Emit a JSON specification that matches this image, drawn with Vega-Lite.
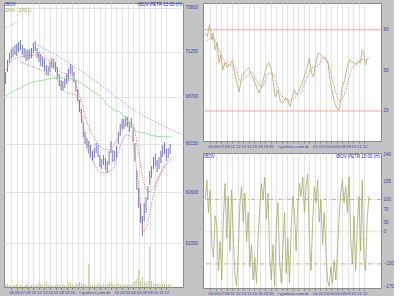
{
"$schema":"https://vega.github.io/schema/vega-lite/v6.json",
"background":"#c4c4c4",
"padding":{"left":3,"top":1,"right":0,"bottom":0},
"spacing":3,
"config":{
 "view":{"fill":"#ffffff","stroke":"#8a8a8a","strokeWidth":1},
 "font":"Liberation Sans",
 "axis":{"labelFont":"Liberation Sans","labelFontSize":4.5,"labelColor":"#3a3ab0","domain":false,"tickColor":"#777777","tickSize":2,"labelPadding":1,"gridColor":"#e3e3e3","gridWidth":1},
 "axisX":{"labelFontSize":4.2}
},
"datasets":{
 "bars":[
{"t":-1.0,"hi":70090,"lo":69410,"vol":20},{"t":-0.67,"hi":70767,"lo":70090,"vol":30},{"t":-0.33,"hi":71170,"lo":70600,"vol":20},
{"t":0,"hi":71400,"lo":70820,"vol":10},{"t":0.33,"hi":71510,"lo":70940,"vol":20},{"t":0.67,"hi":71630,"lo":71055,"vol":20},
{"t":1.0,"hi":71690,"lo":71000,"vol":30},{"t":1.33,"hi":71800,"lo":71230,"vol":10},{"t":1.67,"hi":71920,"lo":71340,"vol":20},
{"t":2.0,"hi":71630,"lo":71055,"vol":20},{"t":2.33,"hi":71456,"lo":70882,"vol":10},{"t":2.67,"hi":71398,"lo":70710,"vol":30},
{"t":3.0,"hi":71340,"lo":70767,"vol":20},{"t":3.33,"hi":71398,"lo":70825,"vol":10},{"t":3.67,"hi":71456,"lo":70882,"vol":20},
{"t":4.0,"hi":71746,"lo":71170,"vol":30},{"t":4.33,"hi":71862,"lo":71283,"vol":20},{"t":4.67,"hi":71456,"lo":70882,"vol":20},
{"t":5.0,"hi":71226,"lo":70653,"vol":40},{"t":5.33,"hi":71112,"lo":70426,"vol":30},{"t":5.67,"hi":70940,"lo":70369,"vol":20},
{"t":6.0,"hi":70825,"lo":70143,"vol":30},{"t":6.33,"hi":70482,"lo":69917,"vol":60},{"t":6.67,"hi":70426,"lo":69860,"vol":30},
{"t":7.0,"hi":70653,"lo":70087,"vol":20},{"t":7.33,"hi":70882,"lo":70313,"vol":20},{"t":7.67,"hi":70825,"lo":70256,"vol":10},
{"t":8.0,"hi":70653,"lo":70087,"vol":20},{"t":8.33,"hi":70369,"lo":69690,"vol":30},{"t":8.67,"hi":69974,"lo":69299,"vol":20},
{"t":9.0,"hi":69634,"lo":69075,"vol":20},{"t":9.33,"hi":69578,"lo":69019,"vol":30},{"t":9.67,"hi":69747,"lo":69187,"vol":20},
{"t":10.0,"hi":69974,"lo":69411,"vol":10},{"t":10.33,"hi":70256,"lo":69578,"vol":40},{"t":10.67,"hi":70539,"lo":69974,"vol":50},
{"t":11.0,"hi":70426,"lo":69860,"vol":30},{"t":11.33,"hi":70087,"lo":69522,"vol":20},{"t":11.67,"hi":69634,"lo":68964,"vol":40},
{"t":12.0,"hi":69131,"lo":68465,"vol":30},{"t":12.33,"hi":68520,"lo":67860,"vol":50},{"t":12.67,"hi":68025,"lo":67261,"vol":40},
{"t":13.0,"hi":67261,"lo":66506,"vol":30},{"t":13.33,"hi":66774,"lo":66131,"vol":30},{"t":13.67,"hi":66452,"lo":65917,"vol":20},
{"t":14.0,"hi":66291,"lo":65652,"vol":230},{"t":14.33,"hi":66077,"lo":65440,"vol":30},{"t":14.67,"hi":65758,"lo":65229,"vol":20},
{"t":15.0,"hi":65917,"lo":65387,"vol":30},{"t":15.33,"hi":66184,"lo":65652,"vol":20},{"t":15.67,"hi":66077,"lo":65440,"vol":40},
{"t":16.0,"hi":65546,"lo":64915,"vol":30},{"t":16.33,"hi":65335,"lo":64810,"vol":20},{"t":16.67,"hi":65546,"lo":65019,"vol":30},
{"t":17.0,"hi":65387,"lo":64758,"vol":20},{"t":17.33,"hi":65229,"lo":64601,"vol":30},{"t":17.67,"hi":65758,"lo":65019,"vol":40},
{"t":18.0,"hi":66291,"lo":65652,"vol":50},{"t":18.33,"hi":65811,"lo":65177,"vol":30},{"t":18.67,"hi":65758,"lo":65229,"vol":20},
{"t":19.0,"hi":66024,"lo":65387,"vol":30},{"t":19.33,"hi":66774,"lo":66131,"vol":40},{"t":19.67,"hi":67206,"lo":66559,"vol":30},
{"t":20.0,"hi":67478,"lo":66936,"vol":20},{"t":20.33,"hi":67478,"lo":66936,"vol":20},{"t":20.67,"hi":67642,"lo":67098,"vol":30},
{"t":21.0,"hi":67587,"lo":67044,"vol":20},{"t":21.33,"hi":67315,"lo":66774,"vol":30},{"t":21.67,"hi":67533,"lo":66990,"vol":20},
{"t":22.0,"hi":67044,"lo":66291,"vol":40},{"t":22.33,"hi":66184,"lo":65229,"vol":60},{"t":22.67,"hi":64758,"lo":63721,"vol":80},
{"t":23.0,"hi":63824,"lo":62802,"vol":170},{"t":23.33,"hi":63056,"lo":62046,"vol":60},{"t":23.67,"hi":62397,"lo":61400,"vol":100},
{"t":24.0,"hi":63056,"lo":62146,"vol":50},{"t":24.33,"hi":63362,"lo":62549,"vol":40},{"t":24.67,"hi":63927,"lo":63209,"vol":60},
{"t":25.0,"hi":64706,"lo":63979,"vol":400},{"t":25.33,"hi":64967,"lo":64341,"vol":60},{"t":25.67,"hi":65440,"lo":64810,"vol":40},
{"t":26.0,"hi":65599,"lo":64967,"vol":30},{"t":26.33,"hi":65282,"lo":64654,"vol":40},{"t":26.67,"hi":65440,"lo":64810,"vol":30},
{"t":27.0,"hi":65758,"lo":65124,"vol":20},{"t":27.33,"hi":66077,"lo":65440,"vol":40},{"t":27.67,"hi":66238,"lo":65599,"vol":30},
{"t":28.0,"hi":65864,"lo":65229,"vol":30},{"t":28.33,"hi":65917,"lo":65387,"vol":20},{"t":28.67,"hi":66131,"lo":65599,"vol":30}
 ],
 "ma":[
{"s":"g","t":-1.3,"p":68690},{"s":"g","t":-0.18,"p":68910},{"s":"g","t":1.64,"p":69190},{"s":"g","t":3.45,"p":69470},{"s":"g","t":5.82,"p":69630},{"s":"g","t":8.36,"p":69750},{"s":"g","t":11.09,"p":69690},{"s":"g","t":12.55,"p":69470},{"s":"g","t":14.36,"p":69080},{"s":"g","t":16.18,"p":68690},{"s":"g","t":17.4,"p":68240},{"s":"g","t":18.55,"p":67970},{"s":"g","t":19.82,"p":67810},{"s":"g","t":20.73,"p":67480},{"s":"g","t":21.64,"p":67040},{"s":"g","t":22.91,"p":66770},{"s":"g","t":24,"p":66720},{"s":"g","t":25.82,"p":66560},{"s":"g","t":28.36,"p":66510},{"s":"g","t":28.91,"p":66510},
{"s":"b","t":4.73,"p":71630},{"s":"b","t":8,"p":71055},{"s":"b","t":11.27,"p":70426},{"s":"b","t":16.18,"p":69355},{"s":"b","t":22.18,"p":67970},{"s":"b","t":27.09,"p":67152},{"s":"b","t":31,"p":66613},
{"s":"ra","t":-0.91,"p":70200},{"s":"ra","t":0.18,"p":70767},{"s":"ra","t":1.64,"p":70940},{"s":"ra","t":4.36,"p":71055},{"s":"ra","t":7.09,"p":70653},{"s":"ra","t":8.91,"p":70087},{"s":"ra","t":10.36,"p":69917},{"s":"ra","t":11.64,"p":69355},{"s":"ra","t":12.55,"p":68520},{"s":"ra","t":13.45,"p":67533},{"s":"ra","t":14.73,"p":66613},{"s":"ra","t":16.18,"p":65970},{"s":"ra","t":17.64,"p":65811},{"s":"ra","t":18.91,"p":66238},{"s":"ra","t":19.82,"p":66774},{"s":"ra","t":21.09,"p":67315},{"s":"ra","t":22,"p":67152},{"s":"ra","t":22.91,"p":65811},{"s":"ra","t":23.82,"p":64237},{"s":"ra","t":24.73,"p":63618},{"s":"ra","t":25.64,"p":63824},{"s":"ra","t":26.73,"p":64497},{"s":"ra","t":28,"p":65124},{"s":"ra","t":28.91,"p":65387},
{"s":"rb","t":1.64,"p":70653},{"s":"rb","t":5.27,"p":70200},{"s":"rb","t":8,"p":69747},{"s":"rb","t":9.82,"p":68964},{"s":"rb","t":11.64,"p":68797},{"s":"rb","t":12.91,"p":67315},{"s":"rb","t":13.82,"p":65811},{"s":"rb","t":14.91,"p":65124},{"s":"rb","t":16.18,"p":64601},{"s":"rb","t":17.45,"p":64654},{"s":"rb","t":18.55,"p":64915},{"s":"rb","t":19.45,"p":65811},{"s":"rb","t":20.73,"p":66613},{"s":"rb","t":21.64,"p":66506},{"s":"rb","t":22.55,"p":65019},{"s":"rb","t":23.27,"p":63209},{"s":"rb","t":23.82,"p":61599},{"s":"rb","t":24.55,"p":61946},{"s":"rb","t":25.27,"p":62954},{"s":"rb","t":26.18,"p":63979},{"s":"rb","t":27.09,"p":64601},{"s":"rb","t":28,"p":65019},{"s":"rb","t":28.91,"p":65282},
{"s":"rc","t":-1.09,"p":72618},{"s":"rc","t":0,"p":72795},{"s":"rc","t":1.09,"p":72913}
 ],
 "rsi":[
{"t":-0.9,"v":77.8},{"t":-0.5,"v":75.0},{"t":-0.13,"v":83.7},{"t":0.31,"v":72.6},{"t":0.54,"v":77.8},{"t":0.9,"v":65.2},{"t":1.26,"v":70.4},{"t":1.62,"v":55.6},{"t":1.98,"v":61.5},{"t":2.28,"v":50.4},{"t":2.7,"v":55.6},{"t":3.11,"v":51.9},{"t":3.6,"v":54.1},{"t":4.08,"v":57.8},{"t":4.32,"v":50.4},{"t":4.8,"v":41.5},{"t":5.27,"v":34.1},{"t":5.7,"v":44.4},{"t":6.12,"v":48.1},{"t":6.6,"v":50.4},{"t":7.01,"v":51.9},{"t":7.5,"v":46.7},{"t":7.91,"v":43},{"t":8.4,"v":37.8},{"t":8.87,"v":33.3},{"t":9.3,"v":37.8},{"t":9.71,"v":44.4},{"t":10.2,"v":52.6},{"t":10.61,"v":55.6},{"t":11.03,"v":51.9},{"t":11.38,"v":43},{"t":11.82,"v":30.4},{"t":12.28,"v":35.6},{"t":12.77,"v":26.7},{"t":13.18,"v":25.9},{"t":13.67,"v":29.6},{"t":14.08,"v":28.1},{"t":14.51,"v":23},{"t":14.87,"v":30.4},{"t":15.29,"v":35.6},{"t":15.7,"v":31.9},{"t":16.19,"v":35.6},{"t":16.67,"v":40.7},{"t":17.09,"v":45.2},{"t":17.5,"v":50.4},{"t":17.99,"v":59.3},{"t":18.4,"v":48.1},{"t":18.76,"v":45.2},{"t":19.19,"v":55.6},{"t":19.6,"v":63},{"t":20.09,"v":61.5},{"t":20.5,"v":60},{"t":20.99,"v":59.3},{"t":21.4,"v":55.6},{"t":21.76,"v":43},{"t":22.18,"v":33.3},{"t":22.61,"v":25.9},{"t":22.97,"v":22.2},{"t":23.38,"v":20.7},{"t":23.69,"v":28.1},{"t":23.97,"v":37.8},{"t":24.41,"v":43},{"t":24.87,"v":52.6},{"t":25.31,"v":57.8},{"t":25.67,"v":56.3},{"t":26.08,"v":55.6},{"t":26.49,"v":54.1},{"t":26.85,"v":56.3},{"t":27.28,"v":55.6},{"t":27.57,"v":65.2},{"t":27.88,"v":63},{"t":28.18,"v":54.1},{"t":28.47,"v":57.8},{"t":28.78,"v":59.3}
 ],
 "rsis":[
{"t":-0.5,"v":72},{"t":0.5,"v":74},{"t":1.5,"v":66},{"t":2.5,"v":57},{"t":3.5,"v":54},{"t":4.5,"v":52},{"t":5.5,"v":42},{"t":6.5,"v":45},{"t":7.5,"v":49},{"t":8.5,"v":42},{"t":9.5,"v":38},{"t":10.5,"v":48},{"t":11.5,"v":47},{"t":12.5,"v":35},{"t":13.5,"v":29},{"t":14.5,"v":28},{"t":15.5,"v":30},{"t":16.5,"v":34},{"t":17.5,"v":44},{"t":18.5,"v":52},{"t":19.5,"v":53},{"t":20.5,"v":59},{"t":21.5,"v":54},{"t":22.5,"v":38},{"t":23.5,"v":27},{"t":24.5,"v":34},{"t":25.5,"v":49},{"t":26.5,"v":55},{"t":27.5,"v":58},{"t":28.5,"v":58}
 ],
 "cci":[
{"t":-0.9,"v":100},{"t":-0.6,"v":160},{"t":-0.3,"v":60},{"t":0.0,"v":130},{"t":0.3,"v":-40},{"t":0.6,"v":-80},{"t":0.9,"v":50},{"t":1.2,"v":20},{"t":1.5,"v":-120},{"t":1.8,"v":-30},{"t":2.1,"v":-150},{"t":2.4,"v":40},{"t":2.7,"v":150},{"t":3.0,"v":-20},{"t":3.3,"v":110},{"t":3.6,"v":-60},{"t":3.9,"v":130},{"t":4.2,"v":-10},{"t":4.5,"v":-140},{"t":4.8,"v":-170},{"t":5.1,"v":-60},{"t":5.4,"v":90},{"t":5.7,"v":140},{"t":6.0,"v":30},{"t":6.3,"v":120},{"t":6.6,"v":-30},{"t":6.9,"v":60},{"t":7.2,"v":-110},{"t":7.5,"v":-40},{"t":7.8,"v":-150},{"t":8.1,"v":-80},{"t":8.4,"v":-160},{"t":8.7,"v":-20},{"t":9.0,"v":70},{"t":9.3,"v":150},{"t":9.6,"v":100},{"t":9.9,"v":170},{"t":10.2,"v":40},{"t":10.5,"v":120},{"t":10.8,"v":-80},{"t":11.1,"v":-150},{"t":11.4,"v":-40},{"t":11.7,"v":-170},{"t":12.0,"v":20},{"t":12.3,"v":90},{"t":12.6,"v":-90},{"t":12.9,"v":-160},{"t":13.2,"v":-50},{"t":13.5,"v":60},{"t":13.8,"v":-130},{"t":14.1,"v":-20},{"t":14.4,"v":-160},{"t":14.7,"v":10},{"t":15.0,"v":110},{"t":15.3,"v":60},{"t":15.6,"v":-60},{"t":15.9,"v":80},{"t":16.2,"v":150},{"t":16.5,"v":110},{"t":16.8,"v":170},{"t":17.1,"v":60},{"t":17.4,"v":140},{"t":17.7,"v":180},{"t":18.0,"v":-20},{"t":18.3,"v":-120},{"t":18.6,"v":30},{"t":18.9,"v":140},{"t":19.2,"v":90},{"t":19.5,"v":160},{"t":19.8,"v":30},{"t":20.1,"v":100},{"t":20.4,"v":-40},{"t":20.7,"v":60},{"t":21.0,"v":-60},{"t":21.3,"v":-150},{"t":21.6,"v":-170},{"t":21.9,"v":-110},{"t":22.2,"v":-160},{"t":22.5,"v":-90},{"t":22.8,"v":-150},{"t":23.1,"v":-60},{"t":23.4,"v":40},{"t":23.7,"v":120},{"t":24.0,"v":160},{"t":24.3,"v":90},{"t":24.6,"v":140},{"t":24.9,"v":60},{"t":25.2,"v":170},{"t":25.5,"v":-20},{"t":25.8,"v":-100},{"t":26.1,"v":50},{"t":26.4,"v":-120},{"t":26.7,"v":20},{"t":27.0,"v":110},{"t":27.3,"v":-60},{"t":27.6,"v":160},{"t":27.9,"v":-80},{"t":28.2,"v":-120},{"t":28.5,"v":40},{"t":28.8,"v":110}
 ]
},
"hconcat":[
 {
  "width":179,"height":284,
  "layer":[
   {"layer":[
    {"data":{"name":"bars"},"mark":{"type":"rule","color":"#7878c0","strokeWidth":1},
     "encoding":{
      "x":{"field":"t","type":"quantitative","title":null,"scale":{"domain":[-1.3,31],"nice":false,"zero":false},
       "axis":{"values":[0,1,2,3,4,5,6,7,8,9,10,11,12,13,14,15,16,17,18,19,20,21,22,23,24,25,26,27,28],"tickCount":60,"grid":true,"labelOverlap":false,
        "labelExpr":"datum.value>=12 && datum.value<=18 ? (datum.value==15 ? '\u25aa graficos.com.br' : '') : ['05','06','07','08','11','12','13','14','15','18','19','20','21','22','25','26','27','28','29','01','02','03','04','05','08','09','10','11','12'][datum.value]"}},
      "y":{"field":"hi","type":"quantitative","title":null,"scale":{"type":"log","domain":[58924,74098],"nice":false,"zero":false},
       "axis":{"orient":"right","values":[61050,63600,66150,68700,71250,73800],"tickCount":20,"format":"d","grid":true,"ticks":false,"labelPadding":2}},
      "y2":{"field":"lo"}}},
    {"data":{"name":"ma"},"mark":{"type":"line","strokeWidth":1,"clip":true,"interpolate":"monotone"},
     "encoding":{
      "x":{"field":"t","type":"quantitative","title":null},
      "y":{"field":"p","type":"quantitative","title":null},
      "color":{"field":"s","type":"nominal","legend":null,"scale":{"domain":["g","b","ra","rb","rc"],"range":["#8ee68e","#a4a4ee","#e06a6a","#e06a6a","#eca0a0"]}},
      "strokeDash":{"field":"s","type":"nominal","legend":null,"scale":{"domain":["g","b","ra","rb","rc"],"range":[[1,0],[1.5,1.5],[1,1.5],[1,1.5],[1,1.5]]}}}},
    {"data":{"values":[{}]},"mark":{"type":"text","align":"left","baseline":"middle","fontSize":4.5,"color":"#2a2ab8"},
     "encoding":{"x":{"datum":-1.1},"y":{"datum":73960},"text":{"value":"IBOV"}}},
    {"data":{"values":[{}]},"mark":{"type":"text","align":"right","baseline":"middle","fontSize":4.5,"color":"#2a2ab8"},
     "encoding":{"x":{"datum":30.8},"y":{"datum":73960},"text":{"value":"IBOV PETR 15:00 (H)"}}},
    {"data":{"values":[{}]},"mark":{"type":"text","align":"left","baseline":"middle","fontSize":4.5,"color":"#a8a860"},
     "encoding":{"x":{"datum":-1.1},"y":{"datum":73620},"text":{"value":"SMA - 200(1)"}}}
   ]},
   {"data":{"name":"bars"},"mark":{"type":"rule","color":"#c4c48c","strokeWidth":1},
    "encoding":{"x":{"field":"t","type":"quantitative","title":null},
     "y":{"field":"vol","type":"quantitative","title":null,"scale":{"domain":[0,2840]},"axis":null},
     "y2":{"datum":0}}}
  ],
  "resolve":{"scale":{"y":"independent"}}
 },
 {"vconcat":[
  {
   "width":178,"height":138,
   "layer":[
    {"data":{"values":[{"lv":80},{"lv":20}]},"mark":{"type":"rule","color":"#f2a4a4","strokeWidth":1},
     "encoding":{"y":{"field":"lv","type":"quantitative","title":null,"scale":{"domain":[-2.2,99.8],"nice":false,"zero":false},
      "axis":{"orient":"right","values":[20,50,80],"tickCount":20,"grid":false,"ticks":false,"labelPadding":2}}}},
    {"data":{"name":"rsi"},"mark":{"type":"line","color":"#bcbc8a","strokeWidth":1},
     "encoding":{
      "x":{"field":"t","type":"quantitative","title":null,"scale":{"domain":[-1.3,31],"nice":false,"zero":false},
       "axis":{"values":[0,1,2,3,4,5,6,7,8,9,10,11,12,13,14,15,16,17,18,19,20,21,22,23,24,25,26,27,28],"tickCount":60,"grid":true,"labelOverlap":false,
        "labelExpr":"datum.value>=12 && datum.value<=18 ? (datum.value==15 ? '\u25aa graficos.com.br' : '') : ['05','06','07','08','11','12','13','14','15','18','19','20','21','22','25','26','27','28','29','01','02','03','04','05','08','09','10','11','12'][datum.value]"}},
      "y":{"field":"v","type":"quantitative","title":null}}},
    {"data":{"name":"rsis"},"mark":{"type":"line","color":"#e07070","strokeWidth":1,"strokeDash":[1,1.5],"interpolate":"monotone"},
     "encoding":{"x":{"field":"t","type":"quantitative","title":null},"y":{"field":"v","type":"quantitative","title":null}}}
   ]
  },
  {
   "width":178,"height":135,
   "layer":[
    {"data":{"values":[{"lv":100},{"lv":-100}]},"mark":{"type":"rule","color":"#e89a9a","strokeWidth":1,"strokeDash":[4,2,1,2]},
     "encoding":{"y":{"field":"lv","type":"quantitative","title":null,"scale":{"domain":[-175,245],"nice":false,"zero":false},
      "axis":{"orient":"right","values":[240,155,100,70,30,0,-100,-170],"tickCount":30,"grid":false,"ticks":false,"labelPadding":2,"labelOverlap":false}}}},
    {"data":{"values":[{"lv":0}]},"mark":{"type":"rule","color":"#f0a8a8","strokeWidth":1,"strokeDash":[1,1.5]},
     "encoding":{"y":{"field":"lv","type":"quantitative","title":null}}},
    {"data":{"name":"cci"},"mark":{"type":"line","color":"#a8a862","strokeWidth":0.8},
     "encoding":{
      "x":{"field":"t","type":"quantitative","title":null,"scale":{"domain":[-1.3,31],"nice":false,"zero":false},
       "axis":{"values":[0,1,2,3,4,5,6,7,8,9,10,11,12,13,14,15,16,17,18,19,20,21,22,23,24,25,26,27,28],"tickCount":60,"grid":true,"labelOverlap":false,
        "labelExpr":"datum.value>=12 && datum.value<=18 ? (datum.value==15 ? '\u25aa graficos.com.br' : '') : ['05','06','07','08','11','12','13','14','15','18','19','20','21','22','25','26','27','28','29','01','02','03','04','05','08','09','10','11','12'][datum.value]"}},
      "y":{"field":"v","type":"quantitative","title":null}}},
    {"data":{"values":[{}]},"mark":{"type":"text","align":"left","baseline":"middle","fontSize":4.5,"color":"#2a2ab8"},
     "encoding":{"x":{"datum":-1.1},"y":{"datum":234},"text":{"value":"IBOV"}}},
    {"data":{"values":[{}]},"mark":{"type":"text","align":"right","baseline":"middle","fontSize":4.5,"color":"#2a2ab8"},
     "encoding":{"x":{"datum":30.8},"y":{"datum":234},"text":{"value":"IBOV PETR 15:00 (H)"}}}
   ]
  }
 ],"spacing":2}
]
}
